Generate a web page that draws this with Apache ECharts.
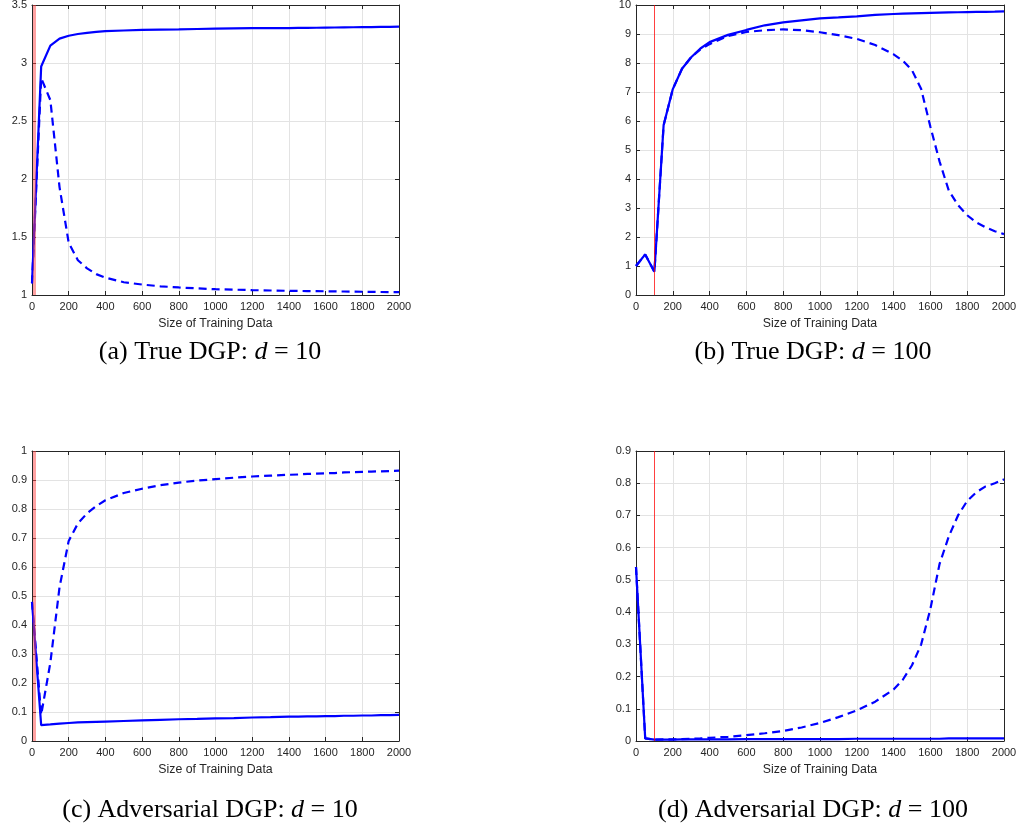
<!DOCTYPE html>
<html>
<head>
<meta charset="utf-8">
<script src="https://cdn.jsdelivr.net/npm/echarts@6/dist/echarts.min.js"></script>
<style>
html,body{margin:0;padding:0;background:#fff;}
#chart{width:1020px;height:830px;}
</style>
</head>
<body>
<div id="chart"></div>
<script>
// Training data sizes (x values shared by all panels)
const sizes = [0,50,100,150,200,250,300,350,400,500,600,700,800,900,1000,1100,1200,1300,1400,1450,1500,1550,1600,1650,1700,1750,1800,1850,1900,1950,2000];

// (a) True DGP d = 10
const aSolid  = [1.1,2.97,3.15,3.21,3.235,3.25,3.26,3.268,3.275,3.28,3.285,3.288,3.29,3.293,3.296,3.298,3.30,3.30,3.301,3.302,3.303,3.304,3.305,3.306,3.307,3.308,3.309,3.31,3.311,3.312,3.314];
const aDashed = [1.1,2.87,2.68,1.93,1.45,1.30,1.23,1.18,1.15,1.11,1.09,1.075,1.065,1.057,1.05,1.046,1.042,1.039,1.036,1.035,1.034,1.033,1.032,1.031,1.03,1.029,1.028,1.027,1.026,1.025,1.024];

// (b) True DGP d = 100
const bSolid  = [1.0,1.4,0.8,5.85,7.1,7.8,8.2,8.5,8.72,8.97,9.14,9.3,9.4,9.47,9.54,9.57,9.61,9.66,9.69,9.70,9.71,9.72,9.73,9.74,9.745,9.75,9.755,9.76,9.765,9.77,9.78];
const bDashed = [1.0,1.4,0.8,5.85,7.1,7.8,8.2,8.47,8.65,8.93,9.07,9.13,9.16,9.13,9.06,8.96,8.83,8.62,8.3,8.08,7.75,7.1,5.8,4.6,3.6,3.1,2.75,2.5,2.33,2.2,2.1];

// (c) Adversarial DGP d = 10
const cSolid  = [0.48,0.055,0.057,0.06,0.062,0.064,0.065,0.066,0.067,0.069,0.071,0.073,0.075,0.076,0.078,0.079,0.081,0.082,0.084,0.084,0.085,0.085,0.086,0.086,0.087,0.087,0.088,0.088,0.089,0.089,0.09];
const cDashed = [0.48,0.09,0.27,0.53,0.69,0.75,0.785,0.81,0.83,0.855,0.87,0.882,0.891,0.898,0.903,0.908,0.912,0.915,0.918,0.919,0.921,0.922,0.923,0.924,0.926,0.927,0.928,0.929,0.93,0.931,0.932];

// (d) Adversarial DGP d = 100
const dSolid  = [0.54,0.008,0.004,0.004,0.004,0.005,0.005,0.005,0.005,0.005,0.006,0.006,0.006,0.006,0.006,0.006,0.007,0.007,0.007,0.007,0.007,0.007,0.007,0.007,0.008,0.008,0.008,0.008,0.008,0.008,0.008];
const dDashed = [0.54,0.008,0.004,0.005,0.005,0.006,0.007,0.008,0.01,0.013,0.018,0.024,0.031,0.042,0.056,0.074,0.095,0.122,0.16,0.19,0.235,0.3,0.41,0.55,0.635,0.70,0.745,0.772,0.79,0.80,0.812];

// Axis ranges / ticks
const xTicks = {min:0, max:2000, interval:200};
const yRanges = [
  {min:1, max:3.5, interval:0.5},
  {min:0, max:10, interval:1},
  {min:0, max:1, interval:0.1},
  {min:0, max:0.9, interval:0.1}
];
const dimLines = [10, 100, 10, 100];
const captions = [
  ['(a) True DGP: ', 'd', ' = 10'],
  ['(b) True DGP: ', 'd', ' = 100'],
  ['(c) Adversarial DGP: ', 'd', ' = 10'],
  ['(d) Adversarial DGP: ', 'd', ' = 100']
];
const xTitle = 'Size of Training Data';

const panels = [[aSolid,aDashed],[bSolid,bDashed],[cSolid,cDashed],[dSolid,dDashed]];
const gridBoxes = [
  {left:32, top:5, width:367, height:290},
  {left:636, top:5, width:368, height:290},
  {left:32, top:451, width:367, height:290},
  {left:636, top:451, width:368, height:290}
];
const captionPos = [[210,352],[813,352],[210,810],[813,810]];

const axisCol = '#262626';
const gridCol = '#e3e3e3';
const tickFont = {fontFamily:'Liberation Sans', fontSize:11, color:axisCol};

function pairs(ys){ return sizes.map((x,i)=>[x, ys[i]]); }
function fmt(v){ return String(Math.round(v*100)/100); }

const grid = [], xAxis = [], yAxis = [], series = [], graphic = [];
gridBoxes.forEach((g,k)=>{
  grid.push(Object.assign({outerBoundsMode:'none'}, g));
  xAxis.push({
    type:'value', gridIndex:k, position:'bottom', min:xTicks.min, max:xTicks.max, interval:xTicks.interval,
    axisLine:{show:true, onZero:false, lineStyle:{color:axisCol, width:1}},
    axisTick:{show:true, inside:true, length:4, lineStyle:{color:axisCol}},
    axisLabel:Object.assign({margin:6, formatter:fmt, showMaxLabel:true, showMinLabel:true}, tickFont),
    splitLine:{show:true, lineStyle:{color:gridCol, width:1}},
    name:xTitle, nameLocation:'middle', nameGap:23,
    nameTextStyle:{fontFamily:'Liberation Sans', fontSize:12.3, color:axisCol}
  });
  xAxis.push({
    type:'value', gridIndex:k, position:'top', min:xTicks.min, max:xTicks.max, interval:xTicks.interval,
    axisLine:{show:true, onZero:false, lineStyle:{color:axisCol, width:1}},
    axisTick:{show:true, inside:true, length:4, lineStyle:{color:axisCol}},
    axisLabel:{show:false}, splitLine:{show:false}
  });
  const yr = yRanges[k];
  yAxis.push({
    type:'value', gridIndex:k, position:'left', min:yr.min, max:yr.max, interval:yr.interval,
    axisLine:{show:true, onZero:false, lineStyle:{color:axisCol, width:1}},
    axisTick:{show:true, inside:true, length:4, lineStyle:{color:axisCol}},
    axisLabel:Object.assign({margin:5, formatter:fmt, showMaxLabel:true, showMinLabel:true}, tickFont),
    splitLine:{show:true, lineStyle:{color:gridCol, width:1}}
  });
  yAxis.push({
    type:'value', gridIndex:k, position:'right', min:yr.min, max:yr.max, interval:yr.interval,
    axisLine:{show:true, onZero:false, lineStyle:{color:axisCol, width:1}},
    axisTick:{show:true, inside:true, length:4, lineStyle:{color:axisCol}},
    axisLabel:{show:false}, splitLine:{show:false}
  });
  const thick = (k===0 || k===2);
  series.push({
    type:'line', xAxisIndex:2*k, yAxisIndex:2*k, data:pairs(panels[k][1]),
    showSymbol:false, symbol:'none', silent:true, animation:false,
    lineStyle:{color:'#0000ff', width:2.2, type:[8,5]}, z:3
  });
  series.push({
    type:'line', xAxisIndex:2*k, yAxisIndex:2*k, data:pairs(panels[k][0]),
    showSymbol:false, symbol:'none', silent:true, animation:false,
    lineStyle:{color:'#0000ff', width:2.2, type:'solid'}, z:4,
    markLine:{
      silent:true, symbol:['none','none'], label:{show:false}, animation:false,
      lineStyle:{color: thick ? 'rgba(255,70,70,0.5)' : 'rgba(255,0,0,0.75)', width: thick ? 3 : 1, type:'solid'},
      data:[{xAxis:dimLines[k]}], z:5
    }
  });
  const c = captions[k];
  graphic.push({
    type:'text', silent:true,
    x:captionPos[k][0], y:captionPos[k][1],
    style:{
      rich:{
        r:{fontFamily:'Liberation Serif', fontSize:26, fill:'#000'},
        i:{fontFamily:'Liberation Serif', fontStyle:'italic', fontSize:26, fill:'#000'}
      },
      text:'{r|'+c[0]+'}{i|'+c[1]+'}{r|'+c[2]+'}',
      align:'center', verticalAlign:'middle'
    }
  });
});

const chart = echarts.init(document.getElementById('chart'), null, {renderer:'canvas'});
chart.setOption({
  animation:false,
  backgroundColor:'#ffffff',
  grid, xAxis, yAxis, series, graphic
});
</script>
</body>
</html>
